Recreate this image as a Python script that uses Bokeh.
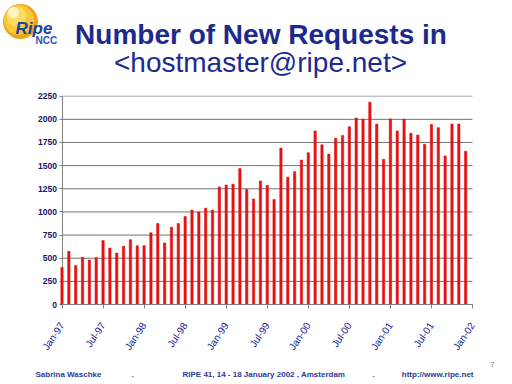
from bokeh.plotting import figure
from bokeh.models import Range1d, FixedTicker, ColumnDataSource
from bokeh.core.properties import value
from bokeh.embed import file_html
from bokeh.resources import INLINE
import math

# ---- data ----
months = list(range(60))  # Jan-97 .. Dec-01
requests = [400, 575, 420, 510, 480, 505, 690, 610, 555, 630, 700, 635,
            635, 775, 875, 665, 835, 875, 950, 1020, 1000, 1040, 1020, 1270,
            1290, 1300, 1470, 1245, 1140, 1335, 1285, 1135, 1690, 1375, 1435, 1560,
            1640, 1875, 1725, 1625, 1795, 1825, 1920, 2015, 2000, 2185, 1950, 1570,
            2005, 1875, 2000, 1850, 1830, 1730, 1945, 1910, 1605, 1950, 1950, 1655]
x_tick_pos = [0, 6, 12, 18, 24, 30, 36, 42, 48, 54, 60]
x_tick_labels = ["Jan-97", "Jul-97", "Jan-98", "Jul-98", "Jan-99", "Jul-99",
                 "Jan-00", "Jul-00", "Jan-01", "Jul-01", "Jan-02"]
y_ticks = [0, 250, 500, 750, 1000, 1250, 1500, 1750, 2000, 2250]

title1 = "Number of New Requests in"
title2 = "<hostmaster@ripe.net>"
logo_main = "Ripe"
logo_sub = "NCC"
footer_left = "Sabrina Waschke"
footer_mid = "RIPE 41, 14 - 18 January 2002 , Amsterdam"
footer_right = "http://www.ripe.net"
page_no = "7"

# ---- layout geometry (pixels) ----
W, H = 512, 384
X0_PX, X1_PX = 61.5, 472.0     # plot area left/right
Y0_PX, Y1_PX = 304.0, 95.7     # plot area bottom/top
XMAX, YMAX = 60, 2250
kx = (X1_PX - X0_PX) / XMAX
ky = (Y0_PX - Y1_PX) / YMAX

p = figure(width=W, height=H, output_backend="svg", toolbar_location=None,
           x_range=Range1d(-X0_PX / kx, XMAX + (W - X1_PX) / kx),
           y_range=Range1d(-(H - Y0_PX) / ky, YMAX + Y1_PX / ky),
           min_border=0, min_border_left=0, min_border_right=0,
           min_border_top=0, min_border_bottom=0)
p.outline_line_color = None
p.background_fill_color = "white"
p.border_fill_color = "white"
p.grid.visible = False
p.extra_x_ranges = {"px": Range1d(0, W)}
p.extra_y_ranges = {"py": Range1d(H, 0)}

# gridlines (limited to the plot area)
grid_y = y_ticks[1:-1]
p.segment(x0=[0] * len(grid_y), x1=[XMAX] * len(grid_y), y0=grid_y, y1=grid_y,
          line_color="#747474", line_width=1)
p.segment(x0=[0], x1=[XMAX], y0=[y_ticks[-1]], y1=[y_ticks[-1]],
          line_color="#a8a8a8", line_width=1)

# bars
src = ColumnDataSource(dict(x=months, top=requests))
p.vbar(x="x", top="top", width=0.34, source=src, fill_color="#ee1111",
       line_color="#d80000", line_width=0.5)

# axes (fixed at the plot-area edges)
xa = p.xaxis[0]
xa.fixed_location = 0
xa.bounds = (0, XMAX)
xa.ticker = FixedTicker(ticks=x_tick_pos)
xa.major_label_overrides = {t: l for t, l in zip(x_tick_pos, x_tick_labels)}
xa.major_label_orientation = math.radians(56)
xa.major_label_text_font = "Liberation Sans"
xa.major_label_text_font_size = "10px"
xa.major_label_text_color = "#20208f"
xa.major_label_standoff = 15
xa.axis_line_color = "#808080"
xa.major_tick_line_color = "#808080"
xa.major_tick_out = 4
xa.major_tick_in = 0
xa.minor_tick_line_color = None

ya = p.yaxis[0]
ya.fixed_location = 0
ya.bounds = (0, YMAX)
ya.level = "underlay"
ya.ticker = FixedTicker(ticks=y_ticks)
ya.major_label_text_font = "Liberation Sans"
ya.major_label_text_font_style = "bold"
ya.major_label_text_font_size = "8.5px"
ya.major_label_text_color = "#14146e"
ya.major_label_standoff = 2
ya.axis_line_color = "#808080"
ya.major_tick_line_color = "#808080"
ya.major_tick_out = 3
ya.major_tick_in = 0
ya.minor_tick_line_color = None


def txt(x, y, t, size, color, style="normal", font="Liberation Sans",
        align="left", baseline="alphabetic"):
    p.text(x=[x], y=[y], text=[t], text_font=value(font), text_font_size=size,
           text_color=color, text_font_style=style, text_align=align,
           text_baseline=baseline, x_range_name="px", y_range_name="py")


def disc(x, y, r, color):
    p.circle(x=[x], y=[y], radius=r, fill_color=color, line_color=None,
             x_range_name="px", y_range_name="py")


# ---- logo ----
disc(20, 21, 17.5, "#e9a61e")
disc(18.5, 19.5, 15, "#f7c93a")
disc(16, 16, 10, "#fbdc62")
disc(13, 12, 5.5, "#fff4c0")
txt(15, 28, logo_main, "17px", "#2040a0", "bold italic")
txt(35, 40, logo_sub, "10px", "#2a55b0", "bold")

# ---- titles ----
navy = "#1b2a8c"
txt(260.5, 34, title1, "28px", navy, "bold", align="center")
txt(260, 62, title2, "28px", navy, "normal", align="center")

# ---- footer ----
fc = "#2a3c9c"
txt(35, 374, footer_left, "8px", fc, "bold")
txt(131, 374, ".", "8px", fc, "bold")
txt(182, 374, footer_mid, "8px", fc, "bold")
txt(372, 374, ".", "8px", fc, "bold")
txt(473, 374, footer_right, "8px", fc, "bold", align="right")
txt(492, 364, page_no, "8px", "#808080", "normal", align="center")

open("out.html", "w").write(file_html(p, INLINE))
